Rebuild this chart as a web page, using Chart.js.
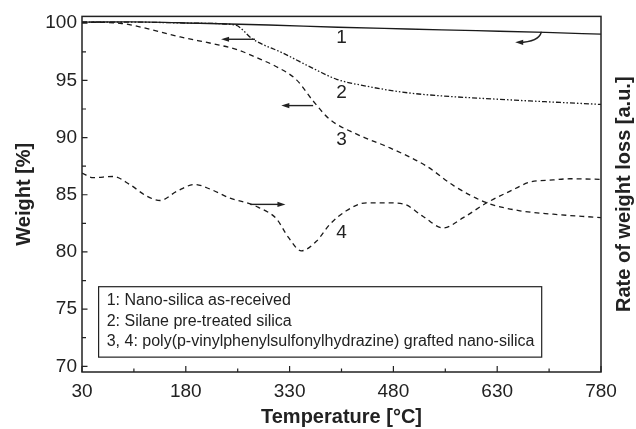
<!DOCTYPE html>
<html>
<head>
<meta charset="utf-8">
<script src="https://cdn.jsdelivr.net/npm/chart.js@4.4.0/dist/chart.umd.min.js"></script>
<style>
    html, body { margin: 0; padding: 0; background: #fff; }
</style>
</head>
<body>
<canvas id="myChart" width="636" height="429"></canvas>
<script>
// values: temperature [°C] -> weight [%]
const temp1 = [30, 100, 200, 300, 400, 500, 600, 700, 780];
const weight1 = [100.1, 100.12, 100.0, 99.85, 99.65, 99.5, 99.35, 99.2, 99.05];

const temp2 = [30, 100, 200, 251, 277, 320, 369, 398, 441, 490, 528, 648, 780];
const weight2 = [100.1, 100.1, 100.0, 99.85, 98.6, 97.4, 95.9, 95.1, 94.5, 94.0, 93.75, 93.3, 92.9];

const temp3 = [30, 85, 123, 172, 220, 254, 282, 311, 340, 364, 388, 427, 475, 528, 567, 615, 663, 711, 780];
const weight3 = [100.1, 100.0, 99.55, 98.8, 98.2, 97.7, 97.0, 96.2, 95.05, 93.2, 91.6, 90.3, 89.1, 87.5, 85.8, 84.3, 83.6, 83.3, 83.0];

// curve 4 is the rate of weight loss (right axis, arbitrary units)
const temp4 = [30, 46, 75, 99, 123, 143, 167, 193, 215, 244, 273, 285, 311, 328, 347, 369, 388, 412, 441, 465, 494, 523, 552, 581, 615, 648, 677, 711, 735, 780];
const rate4 = [86.9, 86.5, 86.6, 85.9, 84.9, 84.5, 85.3, 85.9, 85.5, 84.7, 84.2, 83.9, 82.9, 81.3, 80.1, 80.95, 82.4, 83.6, 84.3, 84.3, 84.2, 83.1, 82.1, 83.0, 84.3, 85.3, 86.1, 86.3, 86.4, 86.35];

const xTicks = [30, 180, 330, 480, 630, 780];
const yTicks = [70, 75, 80, 85, 90, 95, 100];

const legendLines = [
    '1: Nano-silica as-received',
    '2: Silane pre-treated silica',
    '3, 4: poly(p-vinylphenylsulfonylhydrazine) grafted nano-silica'
];

const FONT = "'Liberation Sans', Arial, sans-serif";
const INK = '#222';

function toPoints(xs, ys) {
    return xs.map((x, i) => ({ x: x, y: ys[i] }));
}

function arrowHead(ctx, x, y, dir) {
    // dir: -1 points left, 1 points right
    ctx.beginPath();
    ctx.moveTo(x, y);
    ctx.lineTo(x - dir * 8, y - 2.6);
    ctx.lineTo(x - dir * 8, y + 2.6);
    ctx.closePath();
    ctx.fill();
}

const decorations = {
    id: 'decorations',
    afterDraw(chart) {
        const ctx = chart.ctx;
        const area = chart.chartArea;
        const xs = chart.scales.x;
        const ys = chart.scales.y;
        const px = v => xs.getPixelForValue(v);
        const py = v => ys.getPixelForValue(v);

        ctx.save();
        ctx.strokeStyle = INK;
        ctx.fillStyle = INK;

        // frame
        ctx.lineWidth = 1.5;
        ctx.strokeRect(area.left, area.top, area.right - area.left, area.bottom - area.top);

        // inward ticks
        ctx.lineWidth = 1.2;
        ctx.beginPath();
        for (let t = 30; t <= 780; t += 75) {
            const len = (t - 30) % 150 === 0 ? 6 : 3.5;
            ctx.moveTo(px(t), area.bottom);
            ctx.lineTo(px(t), area.bottom - len);
        }
        for (let w = 70; w <= 100; w += 2.5) {
            const len = w % 5 === 0 ? 5.5 : 4;
            ctx.moveTo(area.left, py(w));
            ctx.lineTo(area.left + len, py(w));
        }
        ctx.stroke();

        // curve numbers
        ctx.font = '19px ' + FONT;
        ctx.textAlign = 'center';
        ctx.textBaseline = 'middle';
        ctx.fillText('1', px(405), py(98.7));
        ctx.fillText('2', px(405), py(93.9));
        ctx.fillText('3', px(405), py(89.8));
        ctx.fillText('4', px(405), py(81.7));

        // arrows
        ctx.lineWidth = 1.4;
        ctx.beginPath();
        ctx.moveTo(px(694), py(99.26));
        ctx.quadraticCurveTo(px(690), py(98.35), px(661), py(98.33));
        ctx.stroke();
        arrowHead(ctx, px(656), py(98.33), -1);

        ctx.beginPath();
        ctx.moveTo(px(280), py(98.6));
        ctx.lineTo(px(236), py(98.6));
        ctx.stroke();
        arrowHead(ctx, px(231), py(98.6), -1);

        ctx.beginPath();
        ctx.moveTo(px(364), py(92.8));
        ctx.lineTo(px(323), py(92.8));
        ctx.stroke();
        arrowHead(ctx, px(318), py(92.8), -1);

        ctx.beginPath();
        ctx.moveTo(px(273), py(84.16));
        ctx.lineTo(px(318), py(84.16));
        ctx.stroke();
        arrowHead(ctx, px(324), py(84.16), 1);

        // legend box
        ctx.lineWidth = 1.2;
        ctx.fillStyle = '#fff';
        const bx = px(54), by = py(76.96);
        const bw = px(694.3) - bx, bh = py(70.8) - by;
        ctx.fillRect(bx, by, bw, bh);
        ctx.strokeRect(bx, by, bw, bh);
        ctx.fillStyle = INK;
        ctx.font = '16px ' + FONT;
        ctx.textAlign = 'left';
        const rows = [75.74, 73.94, 72.17];
        legendLines.forEach((txt, i) => ctx.fillText(txt, px(65.7), py(rows[i])));

        // right axis title, reads bottom to top
        ctx.translate(630, (area.top + area.bottom) / 2);
        ctx.rotate(-Math.PI / 2);
        ctx.font = 'bold 20px ' + FONT;
        ctx.textAlign = 'center';
        ctx.textBaseline = 'alphabetic';
        ctx.fillText('Rate of weight loss [a.u.]', 0, 0);
        ctx.restore();
    }
};

const lineStyle = {
    borderColor: '#1a1a1a',
    borderWidth: 1.3,
    pointRadius: 0,
    fill: false,
    cubicInterpolationMode: 'monotone'
};

const ctx = document.getElementById('myChart').getContext('2d');
const myChart = new Chart(ctx, {
    type: 'line',
    data: {
        datasets: [
            Object.assign({ label: '1', data: toPoints(temp1, weight1) }, lineStyle),
            Object.assign({ label: '2', data: toPoints(temp2, weight2), borderDash: [5, 2, 1.5, 2, 1.5, 2] }, lineStyle),
            Object.assign({ label: '3', data: toPoints(temp3, weight3), borderDash: [5, 4] }, lineStyle),
            Object.assign({ label: '4', data: toPoints(temp4, rate4), borderDash: [5, 4] }, lineStyle)
        ]
    },
    options: {
        responsive: false,
        animation: false,
        devicePixelRatio: 1,
        layout: { padding: { top: 15, right: 35, left: 0, bottom: 0 } },
        plugins: { legend: { display: false }, tooltip: { enabled: false } },
        scales: {
            x: {
                type: 'linear',
                min: 30,
                max: 780,
                afterFit: (scale) => { scale.height = 57; },
                afterBuildTicks: (scale) => { scale.ticks = xTicks.map(v => ({ value: v })); },
                grid: { display: false, drawTicks: false },
                border: { display: false },
                ticks: { color: INK, font: { family: FONT, size: 19 }, padding: 8, maxRotation: 0 },
                title: {
                    display: true,
                    text: 'Temperature [°C]',
                    color: INK,
                    font: { family: FONT, size: 20, weight: 'bold' },
                    padding: 0
                }
            },
            y: {
                type: 'linear',
                min: 69.5,
                max: 100.6,
                afterFit: (scale) => { scale.width = 82; },
                afterBuildTicks: (scale) => { scale.ticks = yTicks.map(v => ({ value: v })); },
                grid: { display: false, drawTicks: false },
                border: { display: false },
                ticks: { color: INK, font: { family: FONT, size: 19 }, padding: 5 },
                title: {
                    display: true,
                    text: 'Weight [%]',
                    color: INK,
                    font: { family: FONT, size: 20, weight: 'bold' },
                    padding: { top: 12, bottom: 0 }
                }
            }
        }
    },
    plugins: [decorations]
});
</script>
</body>
</html>
